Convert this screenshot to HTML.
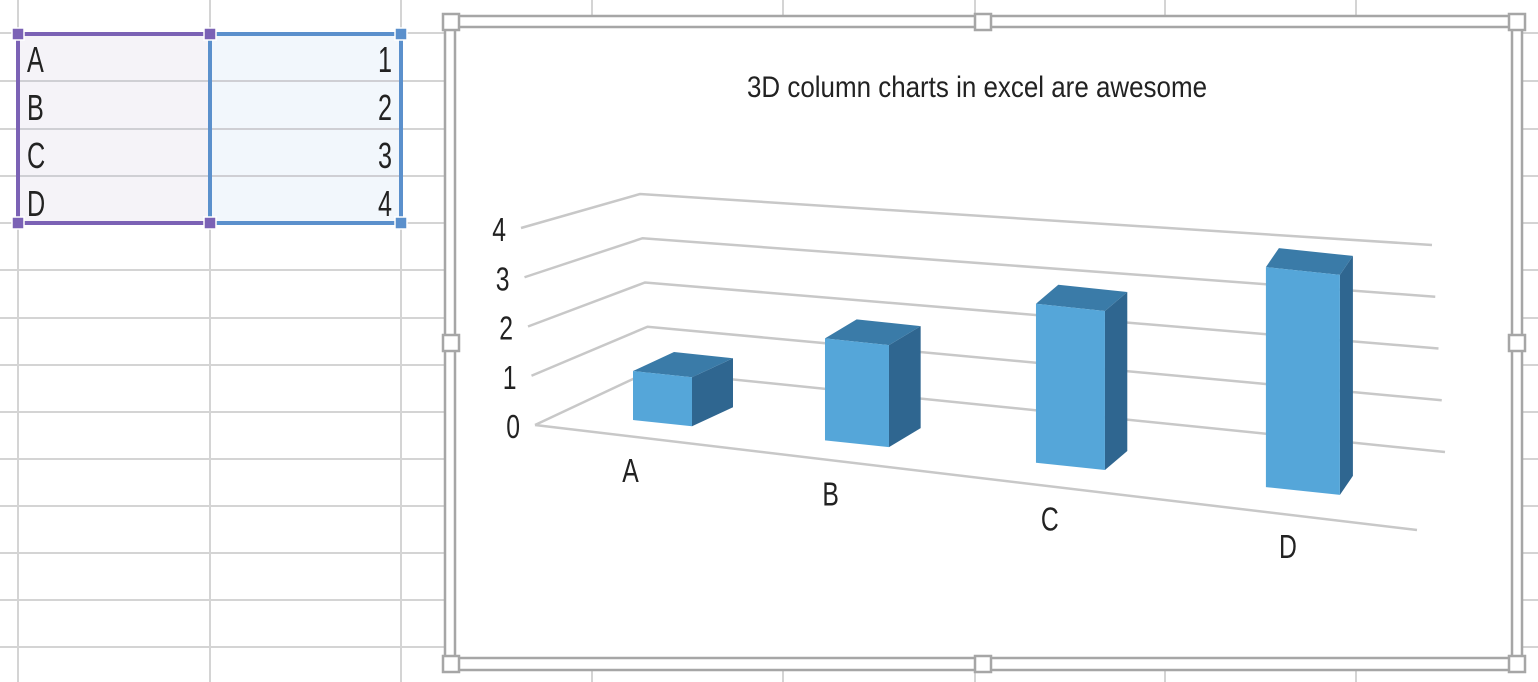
<!DOCTYPE html>
<html><head><meta charset="utf-8"><style>
html,body{margin:0;padding:0;background:#fff;}
body{width:1538px;height:682px;overflow:hidden;position:relative;font-family:"Liberation Sans",sans-serif;}
svg{position:absolute;left:0;top:0;}
text{font-family:"Liberation Sans",sans-serif;fill:#222;}
</style></head><body>
<svg id="s" width="1538" height="682"></svg>
<script>
const categories = ['A','B','C','D'];
const values = [1,2,3,4];
const tickValues = [0,1,2,3,4];
const tickLabels = ['0','1','2','3','4'];

const NS='http://www.w3.org/2000/svg';
const svg=document.getElementById('s');
function mk(tag,attrs,parent){const e=document.createElementNS(NS,tag);for(const k in attrs)e.setAttribute(k,attrs[k]);(parent||svg).appendChild(e);return e;}
function txt(x,y,size,anchor,sx,parent){return mk('text',{x:0,y:0,'font-size':size,'text-anchor':anchor,transform:`translate(${x},${y}) scale(${sx},1)`},parent);}

// spreadsheet grid
const grid=mk('g',{});


[18,210,401,592,783,975,1165,1356].forEach(x=>mk('line',{x1:x,y1:0,x2:x,y2:682,stroke:'#d4d4d4','stroke-width':2},grid));
[33,81,129,176,223,270,318,365,412,459,506,553,600,647].forEach(y=>mk('line',{x1:0,y1:y,x2:1538,y2:y,stroke:'#d4d4d4','stroke-width':2},grid));

// selection ranges
const sel=mk('g',{});


mk('rect',{x:18,y:34,width:192,height:189,fill:'#f5f3f8'},sel);
mk('rect',{x:210,y:34,width:191,height:189,fill:'#f2f7fc'},sel);
[81,129,176].forEach(y=>mk('line',{x1:18,y1:y,x2:401,y2:y,stroke:'#cfcfd4','stroke-width':2},sel));
mk('rect',{x:18,y:34,width:192,height:189,fill:'none',stroke:'#7b62b5','stroke-width':4},sel);
mk('rect',{x:210,y:34,width:191,height:189,fill:'none',stroke:'#5b90cc','stroke-width':4},sel);
[[18,34,'#7b62b5'],[210,34,'#7b62b5'],[18,223,'#7b62b5'],[210,223,'#7b62b5'],[401,34,'#5b90cc'],[401,223,'#5b90cc']].forEach(p=>{
  const h=mk('rect',{x:p[0]-6,y:p[1]-6,width:12,height:12,fill:p[2],stroke:'#fff','stroke-width':1.5},sel);
  
  
});
categories.forEach((c,i)=>{
  const y=72+i*48;
  const t=txt(27,y,36,'start',0.7,sel);t.textContent=c;
  
  
  const n=txt(392,y,36,'end',0.7,sel);n.textContent=values[i];
  
  
});

// chart frame
const ch=mk('g',{});


mk('rect',{x:445,y:16,width:1077,height:654,fill:'#fff',stroke:'#a6a6a6','stroke-width':2.5},ch);
mk('rect',{x:455,y:27,width:1057,height:631,fill:'#fff',stroke:'#a6a6a6','stroke-width':2.5},ch);
[[451,22],[1517,22],[451,664],[1517,664],[983,22],[983,664],[451,343],[1517,343]].forEach(p=>{
  const h=mk('rect',{x:p[0]-8,y:p[1]-8,width:16,height:16,fill:'#fff',stroke:'#a6a6a6','stroke-width':2.5},ch);
  
  
});
const title=mk('text',{x:747,y:97,'font-size':30,textLength:460,lengthAdjust:'spacingAndGlyphs'},ch);
title.textContent='3D column charts in excel are awesome';



// axis functions
const vmax=4;
function leftFront(v){return [535-14*v/vmax,425-49.25*v];}
function leftBack(v){return [650-10*v/vmax,371-44.25*v];}
function rightBack(v){return [1445-13*v/vmax,452-51.75*v];}
function catT(i){return i/(categories.length-1);}
function barLeft(i){const t=catT(i);return 633+547.5*t*(1+0.156*t);}
function barWidth(i){return 59+15*catT(i);}
function barBase(x){return 420+(x-633)*0.106;}
function unitH(i){return 49+6*catT(i);}
function depthDx(i){return 41-28*catT(i);}
const depthDy=-19;

// gridlines
const gl=mk('g',{});


tickValues.forEach((v,k)=>{
  const a=leftFront(v),b=leftBack(v),c=rightBack(v);
  const l=mk('polyline',{points:`${a[0]},${a[1]} ${b[0]},${b[1]} ${c[0]},${c[1]}`,fill:'none',stroke:'#c8c8c8','stroke-width':2.5},gl);
  
  
  const t=txt(a[0]-15,a[1]+13,33,'end',0.75,gl);
  t.textContent=tickLabels[k];
  
  
});
const fe=mk('line',{x1:535,y1:425,x2:1417,y2:530,stroke:'#c8c8c8','stroke-width':2.5});



// bars
categories.forEach((c,i)=>{
  const g=mk('g',{});
  
  
  const x0=barLeft(i),w=barWidth(i),x1=x0+w;
  const b0=barBase(x0),b1=barBase(x1);
  const h=values[i]*unitH(i);
  const t0=b0-h,t1=b1-h;
  const dx=depthDx(i),dy=depthDy;
  mk('polygon',{points:`${x1},${t1} ${x1+dx},${t1+dy} ${x1+dx},${b1+dy} ${x1},${b1}`,fill:'#2f6690'},g);
  mk('polygon',{points:`${x0},${t0} ${x0+dx},${t0+dy} ${x1+dx},${t1+dy} ${x1},${t1}`,fill:'#3a7ba8'},g);
  mk('polygon',{points:`${x0},${t0} ${x1},${t1} ${x1},${b1} ${x0},${b0}`,fill:'#55a6d9'},g);
  const lx=x0+w/2-4-(28-17*catT(i)), ly=b0+62+i*3;
  const t=txt(lx,ly,33,'middle',0.75);
  t.textContent=c;
  
  
});
</script>
</body></html>
